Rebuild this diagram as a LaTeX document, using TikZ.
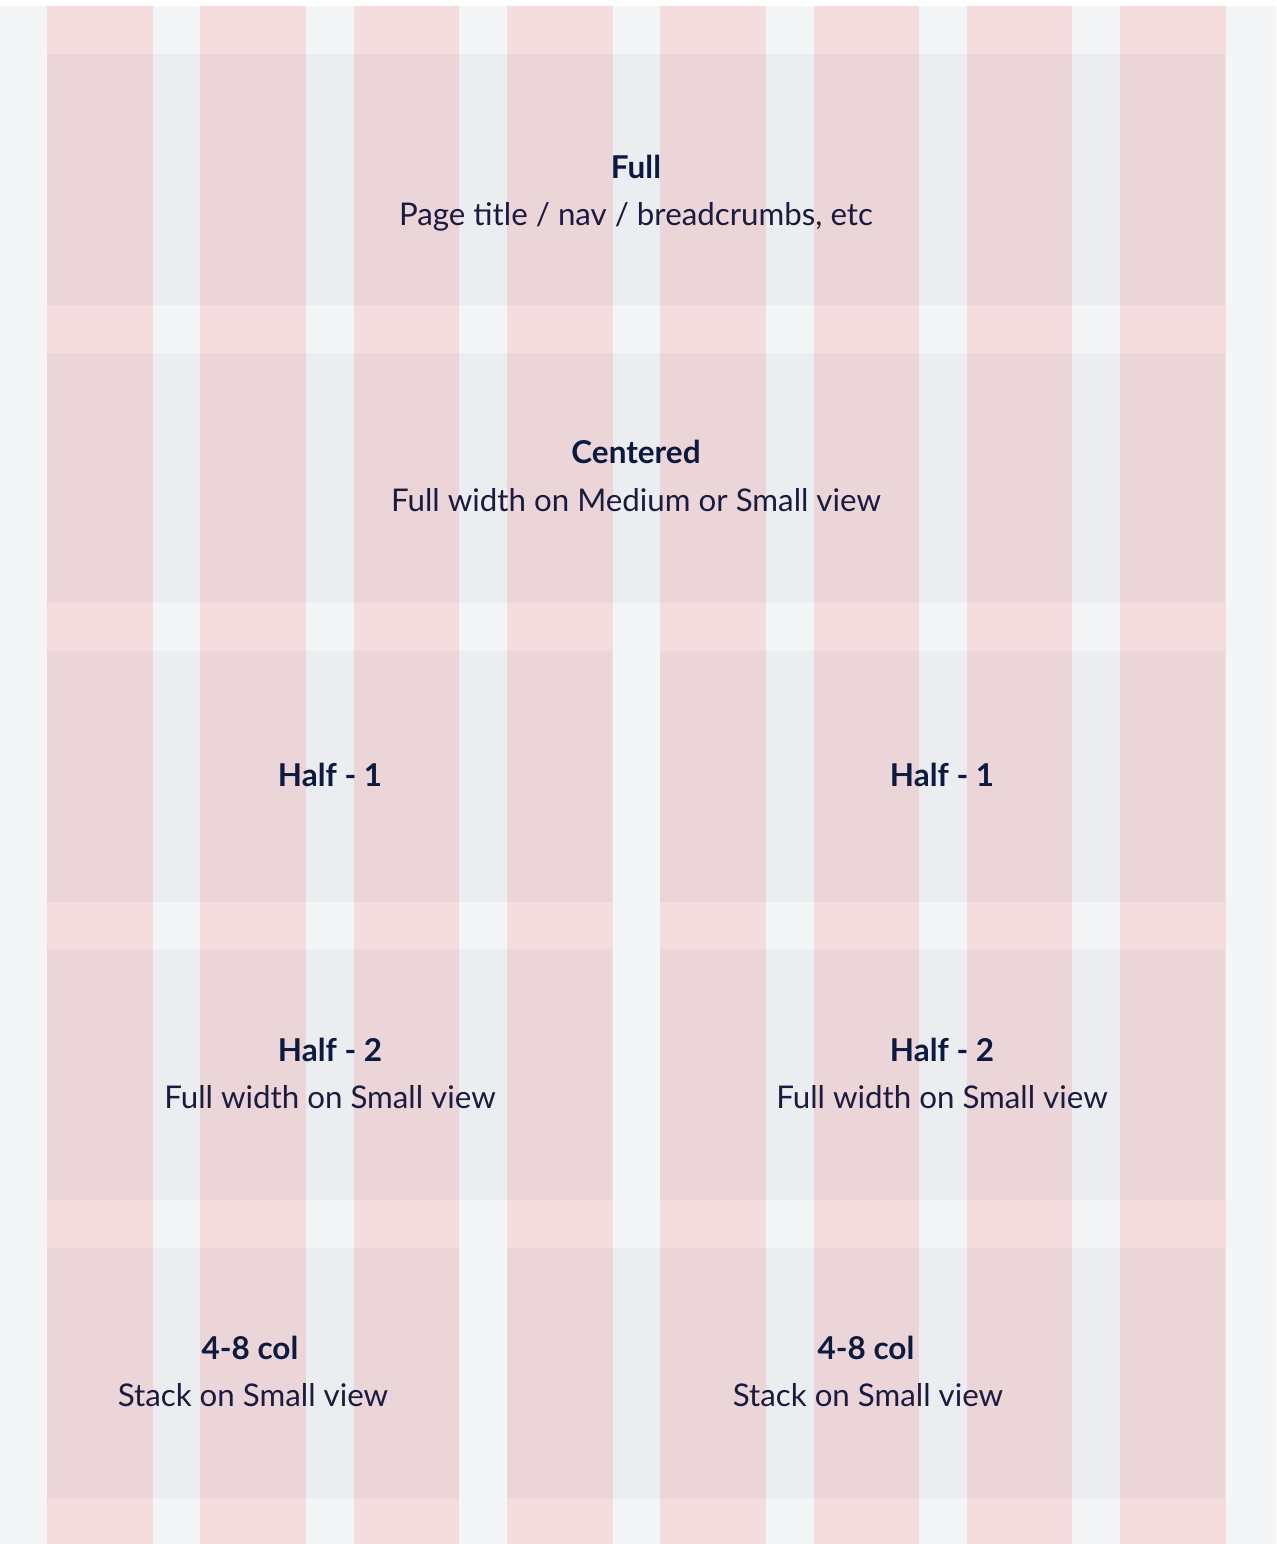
\documentclass[tikz,border=0pt]{standalone}
\usepackage{fontspec}
\setmainfont{Lato}
\definecolor{pagebg}{HTML}{F4F5F7}
\definecolor{colpink}{HTML}{F4DCDF}
\definecolor{inktitle}{HTML}{0B1A3E}
\definecolor{inktext}{HTML}{1A1B3E}
\tikzset{
  colband/.style={fill=colpink},
  block/.style={fill=black!80!blue,fill opacity=0.033},
  ttl/.style={font=\bfseries\fontsize{17.9}{22}\selectfont,text=inktitle,anchor=base,inner sep=0pt},
  sub/.style={font=\fontsize{17.8}{22}\selectfont,text=inktext,anchor=base,inner sep=0pt},
}
\begin{document}
\begin{tikzpicture}[x=0.2mm,y=-0.2mm]
\useasboundingbox (0,0) rectangle (1276,1544);
\fill[white] (0,0) rectangle (1276,6);
\fill[pagebg] (0,6) rectangle (1276,1544);
% eight columns
\foreach \i in {0,...,7}
  \fill[colband] ({47+\i*153.33},6) rectangle ++(105.5,1538);
% content blocks
\fill[block] (47,54) rectangle (1225,305);
\fill[block] (47,353) rectangle (1225,603);
\fill[block] (47,651) rectangle (612,902);
\fill[block] (660,651) rectangle (1225,902);
\fill[block] (47,949) rectangle (612,1200);
\fill[block] (660,949) rectangle (1225,1200);
\fill[block] (47,1248) rectangle (459,1499);
\fill[block] (507,1248) rectangle (1225,1499);
% labels
\node[ttl] (full) at (636,179) {Full};
\node[sub] (fullnote) at (636,226) {Page title / nav / breadcrumbs, etc};
\node[ttl] (centered) at (636,464) {Centered};
\node[sub] (centerednote) at (636,511) {Full width on Medium or Small view};
\node[ttl] (halfoneL) at (330,786) {Half - 1};
\node[ttl] (halfoneR) at (942,786) {Half - 1};
\node[ttl] (halftwoL) at (330,1061) {Half - 2};
\node[sub] (halftwoLnote) at (330,1108) {Full width on Small view};
\node[ttl] (halftwoR) at (942,1061) {Half - 2};
\node[sub] (halftwoRnote) at (942,1108) {Full width on Small view};
\node[ttl] (colsL) at (250,1359) {4-8 col};
\node[sub] (colsLnote) at (253,1406) {Stack on Small view};
\node[ttl] (colsR) at (866,1359) {4-8 col};
\node[sub] (colsRnote) at (868,1406) {Stack on Small view};
\end{tikzpicture}
\end{document}
